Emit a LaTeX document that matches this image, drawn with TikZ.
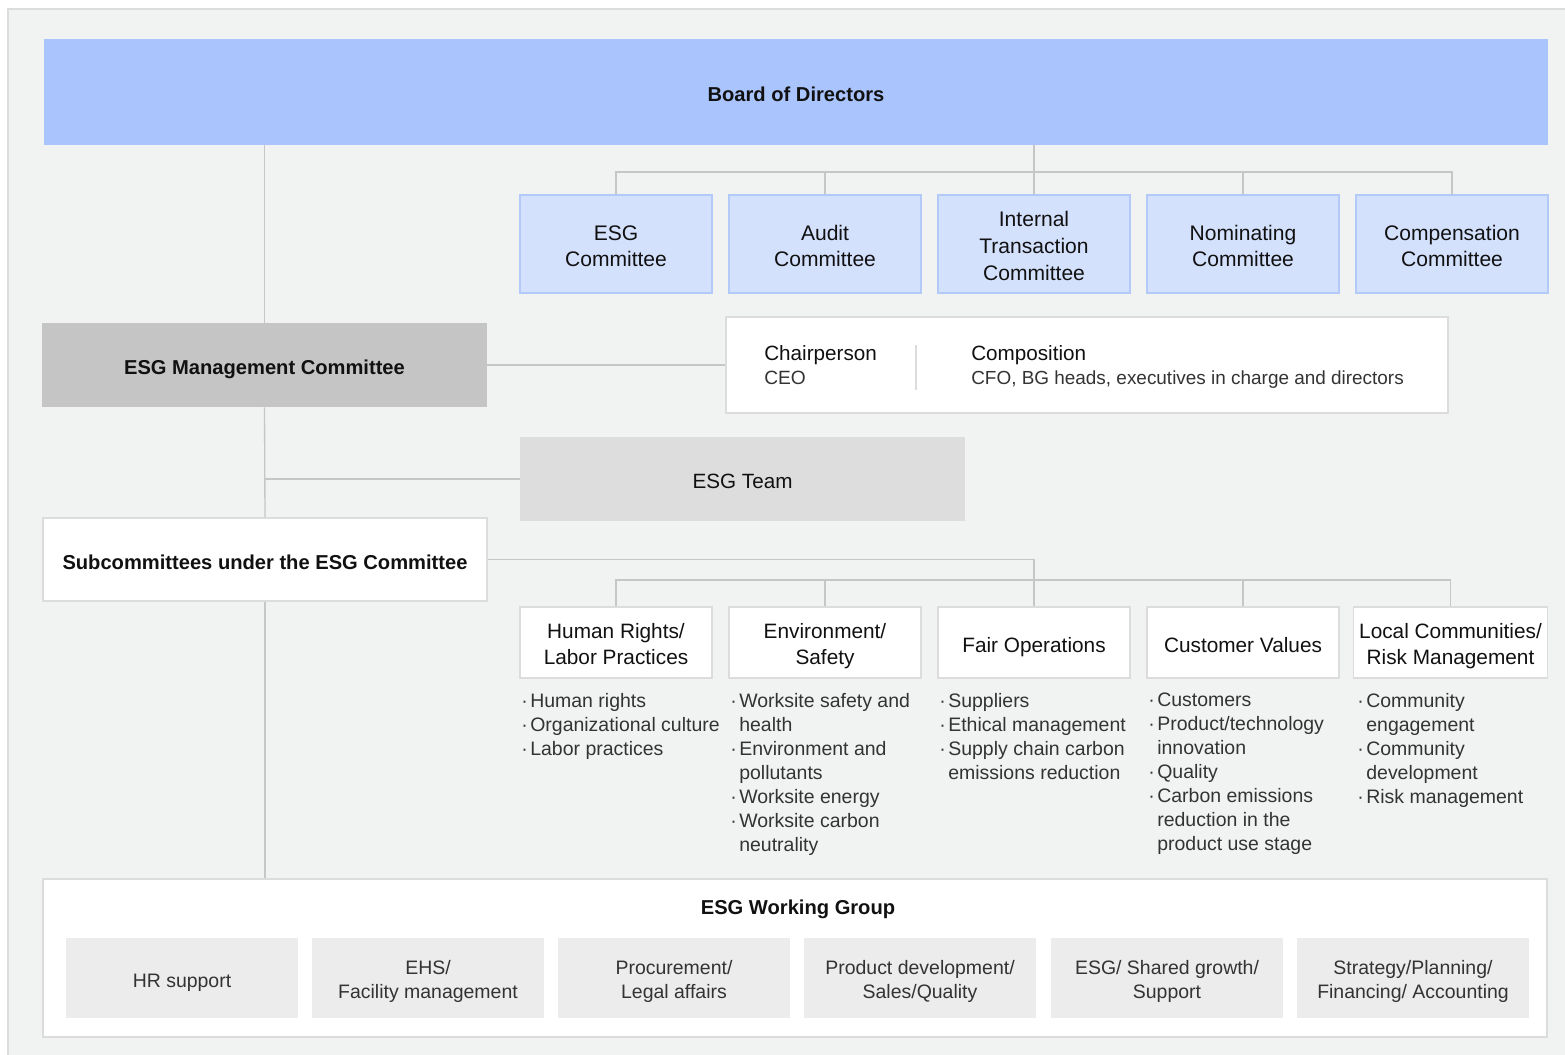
\documentclass[tikz,border=0pt]{standalone}
\usepackage{fontspec}
\setmainfont{Liberation Sans}
\definecolor{bgc}{HTML}{F1F3F2}
\definecolor{bgline}{HTML}{DCDCDC}
\definecolor{boardc}{HTML}{AAC4FE}
\definecolor{comfill}{HTML}{D4E1FD}
\definecolor{comline}{HTML}{B3CAF9}
\definecolor{mgmtc}{HTML}{C4C5C4}
\definecolor{teamc}{HTML}{DCDDDC}
\definecolor{wgc}{HTML}{EBECEB}
\definecolor{conn}{HTML}{C6C6C6}
\definecolor{txt}{HTML}{111111}
\definecolor{ltxt}{HTML}{333333}
\newcommand{\bul}{\makebox[6.8pt][l]{·}}
\newcommand{\cnt}{\hspace*{6.8pt}}
\newcommand{\fs}{\rule{0pt}{1.15em}}
\begin{document}
\begin{tikzpicture}[x=0.75pt,y=-0.75pt,
  box/.style={rectangle,inner sep=0pt,align=center,text=txt,
    execute at begin node={\rule{0pt}{1.2em}},
    execute at end node={\rule[-0.25em]{0pt}{0pt}}},
  board/.style={box,fill=boardc,font=\fontsize{15.1}{18}\selectfont\bfseries},
  comm/.style={box,fill=comfill,draw=comline,line width=0.8pt,minimum width=144pt,minimum height=73.5pt,font=\fontsize{15.8}{20}\selectfont},
  graybox/.style={box,minimum width=333.75pt,minimum height=63pt},
  whitebox/.style={box,fill=white,draw=bgline,line width=0.8pt},
  subc/.style={box,fill=white,draw=bgline,line width=0.8pt,minimum width=144pt,minimum height=53.25pt,font=\fontsize{15.6}{19.5}\selectfont},
  blist/.style={inner sep=0pt,anchor=north west,align=left,text=ltxt,font=\fontsize{14.6}{18}\selectfont},
  wgitem/.style={box,fill=wgc,minimum width=174pt,minimum height=60pt,text=ltxt,font=\fontsize{14.6}{18}\selectfont},
  link/.style={draw=conn,line width=1pt}
]
\useasboundingbox (0,0) rectangle (1565,1055);
\fill[bgc] (8,9) rectangle (1575,1065);
\draw[bgline,line width=1.5pt] (8,1065) -- (8,9) -- (1575,9);

% Board
\node[board,minimum width=1128pt,minimum height=79.5pt] (board) at (796,92) {Board of Directors};

% Committees
\node[comm] (c1) at (616,244) {\fs ESG\\Committee};
\node[comm] (c2) at (825,244) {\fs Audit\\Committee};
\node[comm] (c3) at (1034,244) {\fs Internal\\Transaction\\Committee};
\node[comm] (c4) at (1243,244) {\fs Nominating\\Committee};
\node[comm] (c5) at (1452,244) {\fs Compensation\\Committee};
\coordinate (bj) at (1034,172);
\draw[link] (board.south -| bj) -- (bj);
\draw[link] (bj) -| (c1.north);
\draw[link] (bj) -| (c2.north);
\draw[link] (bj) -- (c3.north);
\draw[link] (bj) -| (c4.north);
\draw[link] (bj) -| (c5.north);

% ESG Management Committee
\node[graybox,fill=mgmtc,font=\fontsize{15.1}{18}\selectfont\bfseries] (mgmt) at (264.5,365) {ESG Management Committee};
\draw[link] (board.south -| mgmt.north) -- (mgmt.north);

\node[whitebox,minimum width=541.5pt,minimum height=72pt] (chair) at (1087,365) {};
\draw[link] (mgmt.east) -- (chair.west);
\node[inner sep=0pt,anchor=west,align=left,text=txt,font=\fontsize{15.5}{18}\selectfont] (chairt) at (764,365) {Chairperson\\{\color{ltxt}\fontsize{14.4}{18}\selectfont CEO}};
\node[inner sep=0pt,anchor=west,align=left,text=txt,font=\fontsize{15.5}{18}\selectfont] (compt) at (971,367) {Composition\\{\color{ltxt}\fontsize{14.2}{18}\selectfont CFO, BG heads, executives in charge and directors}};
\coordinate (dv1) at (916,345);
\coordinate (dv2) at (916,390);
\draw[bgline,line width=1pt] (dv1) -- (dv2);

% ESG Team
\node[graybox,fill=teamc,font=\fontsize{15.5}{18}\selectfont] (team) at (742.5,479) {ESG Team};

% Subcommittees
\node[whitebox,minimum width=333pt,minimum height=62.25pt,font=\fontsize{15.1}{18}\selectfont\bfseries] (sub) at (265,559.5) {Subcommittees under the ESG Committee};
\draw[link] (mgmt.south) -- (sub.north);
\draw[link] (team.west -| mgmt.south) -- (team.west);

\node[subc] (s1) at (616,642.5) {\fs Human Rights/\\Labor Practices};
\node[subc] (s2) at (825,642.5) {\fs Environment/\\Safety};
\node[subc] (s3) at (1034,642.5) {Fair Operations};
\node[subc] (s4) at (1243,642.5) {Customer Values};
\node[subc,minimum width=145.5pt] (s5) at (1450.5,642.5) {\fs Local Communities/\\Risk Management};
\coordinate (sj) at (1034,580);
\draw[link] (sub.east) -| (sj);
\draw[link] (sj) -| (s1.north);
\draw[link] (sj) -| (s2.north);
\draw[link] (sj) -- (s3.north);
\draw[link] (sj) -| (s4.north);
\draw[link] (sj) -| (s5.north);

% bullet lists
\node[blist] (l1) at (521,693) {\bul Human rights\\\bul Organizational culture\\\bul Labor practices};
\node[blist] (l2) at (730,693) {\bul Worksite safety and\\\cnt health\\\bul Environment and\\\cnt pollutants\\\bul Worksite energy\\\bul Worksite carbon\\\cnt neutrality};
\node[blist] (l3) at (939,693) {\bul Suppliers\\\bul Ethical management\\\bul Supply chain carbon\\\cnt emissions reduction};
\node[blist] (l4) at (1148,693) {\bul Customers\\\bul Product/technology\\\cnt innovation\\\bul Quality\\\bul Carbon emissions\\\cnt reduction in the\\\cnt product use stage};
\node[blist] (l5) at (1357,693) {\bul Community\\\cnt engagement\\\bul Community\\\cnt development\\\bul Risk management};

% Working group
\node[whitebox,minimum width=1128pt,minimum height=118.5pt] (wg) at (795,958) {};
\draw[link] (sub.south) -- (wg.north -| sub.south);
\node[box,font=\fontsize{15.1}{18}\selectfont\bfseries] (wgt) at (798,905) {ESG Working Group};
\node[wgitem] (w1) at (182,978) {HR support};
\node[wgitem] (w2) at (428,978) {\fs EHS/\\Facility management};
\node[wgitem] (w3) at (674,978) {\fs Procurement/\\Legal affairs};
\node[wgitem] (w4) at (920,978) {\fs Product development/\\Sales/Quality};
\node[wgitem] (w5) at (1167,978) {\fs ESG/ Shared growth/\\Support};
\node[wgitem] (w6) at (1413,978) {\fs Strategy/Planning/\\Financing/ Accounting};
\end{tikzpicture}
\end{document}
